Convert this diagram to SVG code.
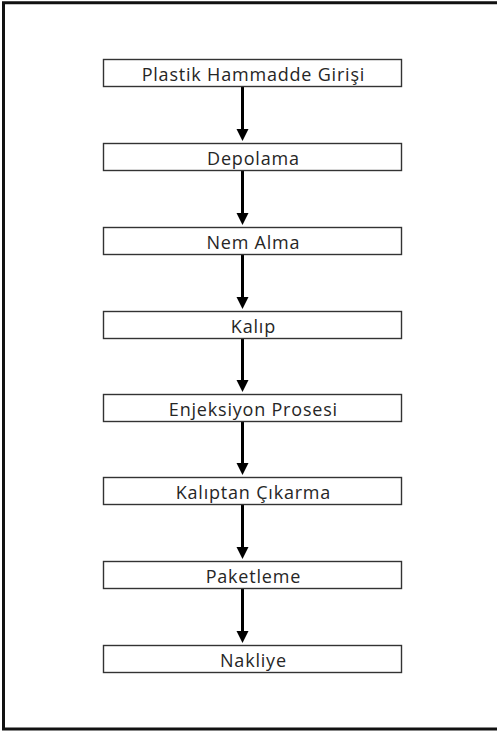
<svg xmlns="http://www.w3.org/2000/svg" width="497" height="731" viewBox="0 0 497 731">
<style>
.box{fill:#fff;stroke:#333;stroke-width:1.4}
.lbl{font-family:"Open Sans","Liberation Sans",sans-serif;font-size:18px;font-weight:500;letter-spacing:0.8px;fill:#262626;text-anchor:middle}
.con{stroke:#000;stroke-width:3;fill:none}
.head{fill:#000}
</style>
<rect width="497" height="731" fill="#fff"/>
<path d="M500,2.7 H3.5 V729 H500" fill="none" stroke="#111" stroke-width="3"/>
<g id="connectors">
<line class="con" x1="242.5" y1="87" x2="242.5" y2="130"/><path class="head" d="M236.5,129 H248.5 L242.5,141 Z"/>
<line class="con" x1="242.5" y1="171" x2="242.5" y2="214"/><path class="head" d="M236.5,213 H248.5 L242.5,225 Z"/>
<line class="con" x1="242.5" y1="255" x2="242.5" y2="298"/><path class="head" d="M236.5,297 H248.5 L242.5,309 Z"/>
<line class="con" x1="242.5" y1="339" x2="242.5" y2="381"/><path class="head" d="M236.5,380 H248.5 L242.5,392 Z"/>
<line class="con" x1="242.5" y1="422" x2="242.5" y2="464"/><path class="head" d="M236.5,463 H248.5 L242.5,475 Z"/>
<line class="con" x1="242.5" y1="505" x2="242.5" y2="548"/><path class="head" d="M236.5,547 H248.5 L242.5,559 Z"/>
<line class="con" x1="242.5" y1="589" x2="242.5" y2="632"/><path class="head" d="M236.5,631 H248.5 L242.5,643 Z"/>
</g>
<g id="n1"><rect class="box" x="103.5" y="59.5" width="298" height="27"/><text class="lbl" x="253.4" y="80.5">Plastik Hammadde Girişi</text></g>
<g id="n2"><rect class="box" x="103.5" y="143.5" width="298" height="27"/><text class="lbl" x="253.4" y="164.5">Depolama</text></g>
<g id="n3"><rect class="box" x="103.5" y="227.5" width="298" height="27"/><text class="lbl" x="253.4" y="248.5">Nem Alma</text></g>
<g id="n4"><rect class="box" x="103.5" y="311.5" width="298" height="27"/><text class="lbl" x="253.4" y="332.5">Kalıp</text></g>
<g id="n5"><rect class="box" x="103.5" y="394.5" width="298" height="27"/><text class="lbl" x="253.4" y="415.5">Enjeksiyon Prosesi</text></g>
<g id="n6"><rect class="box" x="103.5" y="477.5" width="298" height="27"/><text class="lbl" x="253.4" y="498.5">Kalıptan Çıkarma</text></g>
<g id="n7"><rect class="box" x="103.5" y="561.5" width="298" height="27"/><text class="lbl" x="253.4" y="582.5">Paketleme</text></g>
<g id="n8"><rect class="box" x="103.5" y="645.5" width="298" height="27"/><text class="lbl" x="253.4" y="666.5">Nakliye</text></g>
</svg>
